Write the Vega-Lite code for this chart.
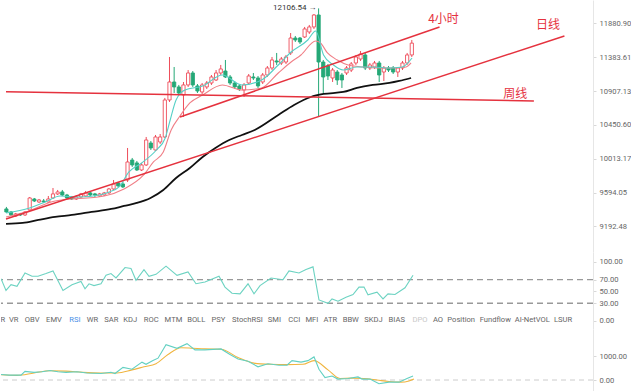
{
  "$schema": "https://vega.github.io/schema/vega-lite/v6.json",
  "padding": 0,
  "background": "white",
  "spacing": 0,
  "config": {
    "view": {"stroke": null},
    "axis": {"labelFont": "Roboto", "labelFontSize": 7.6, "labelColor": "#666", "tickColor": "#d8d8d8", "domainColor": "#e6e6e6", "tickSize": 3, "labelPadding": 3, "grid": false}
  },
  "datasets": {
    "candles": [
      {"i":0,"o":9398,"h":9422,"l":9351,"c":9362},{"i":1,"o":9362,"h":9374,"l":9315,"c":9327},{"i":2,"o":9315,"h":9351,"l":9303,"c":9339},{"i":3,"o":9339,"h":9351,"l":9315,"c":9327},{"i":4,"o":9327,"h":9374,"l":9315,"c":9362},{"i":5,"o":9386,"h":9541,"l":9374,"c":9529},{"i":6,"o":9517,"h":9529,"l":9481,"c":9493},{"i":7,"o":9481,"h":9517,"l":9469,"c":9505},{"i":8,"o":9493,"h":9517,"l":9469,"c":9481},{"i":9,"o":9481,"h":9553,"l":9469,"c":9517},
      {"i":10,"o":9529,"h":9650,"l":9517,"c":9578},{"i":11,"o":9578,"h":9626,"l":9565,"c":9602},{"i":12,"o":9602,"h":9626,"l":9553,"c":9565},{"i":13,"o":9565,"h":9578,"l":9517,"c":9529},{"i":14,"o":9541,"h":9553,"l":9505,"c":9517},{"i":15,"o":9517,"h":9565,"l":9505,"c":9541},{"i":16,"o":9541,"h":9590,"l":9529,"c":9578},{"i":17,"o":9553,"h":9614,"l":9541,"c":9590},{"i":18,"o":9590,"h":9602,"l":9553,"c":9565},{"i":19,"o":9578,"h":9590,"l":9541,"c":9565},
      {"i":20,"o":9553,"h":9590,"l":9541,"c":9578},{"i":21,"o":9565,"h":9602,"l":9553,"c":9590},{"i":22,"o":9590,"h":9650,"l":9578,"c":9638},{"i":23,"o":9638,"h":9748,"l":9626,"c":9699},{"i":24,"o":9711,"h":9724,"l":9663,"c":9675},{"i":25,"o":9699,"h":9724,"l":9650,"c":9663},{"i":26,"o":9748,"h":10150,"l":9724,"c":9972},{"i":27,"o":9997,"h":10023,"l":9910,"c":9935},{"i":28,"o":9960,"h":9985,"l":9860,"c":9872},{"i":29,"o":9872,"h":9960,"l":9860,"c":9935},
      {"i":30,"o":9935,"h":10292,"l":9922,"c":10253},{"i":31,"o":10214,"h":10240,"l":10124,"c":10150},{"i":32,"o":10124,"h":10318,"l":10112,"c":10292},{"i":33,"o":10227,"h":10331,"l":10202,"c":10292},{"i":34,"o":10292,"h":10812,"l":10279,"c":10784},{"i":35,"o":10784,"h":11386,"l":10757,"c":11032},{"i":36,"o":11032,"h":11243,"l":10880,"c":10963},{"i":37,"o":10963,"h":10991,"l":10853,"c":10880},{"i":38,"o":10853,"h":11032,"l":10555,"c":10991},{"i":39,"o":10991,"h":11200,"l":10963,"c":11158},
      {"i":40,"o":11158,"h":11186,"l":10963,"c":10991},{"i":41,"o":10977,"h":11004,"l":10880,"c":10907},{"i":42,"o":10894,"h":11018,"l":10866,"c":10991},{"i":43,"o":10963,"h":11046,"l":10935,"c":11018},{"i":44,"o":11018,"h":11130,"l":10991,"c":11102},{"i":45,"o":11060,"h":11200,"l":11046,"c":11158},{"i":46,"o":11158,"h":11272,"l":11130,"c":11215},{"i":47,"o":11186,"h":11343,"l":11088,"c":11102},{"i":48,"o":11102,"h":11130,"l":10991,"c":11018},{"i":49,"o":11018,"h":11046,"l":10935,"c":10963},
      {"i":50,"o":10977,"h":11004,"l":10907,"c":10935},{"i":51,"o":10921,"h":11018,"l":10825,"c":10991},{"i":52,"o":11018,"h":11144,"l":10991,"c":11116},{"i":53,"o":11102,"h":11158,"l":11060,"c":11088},{"i":54,"o":11088,"h":11116,"l":10949,"c":10977},{"i":55,"o":11032,"h":11158,"l":11004,"c":11130},{"i":56,"o":11130,"h":11257,"l":11102,"c":11229},{"i":57,"o":11229,"h":11386,"l":11200,"c":11343},{"i":58,"o":11329,"h":11444,"l":11272,"c":11314},{"i":59,"o":11300,"h":11386,"l":11272,"c":11357},
      {"i":60,"o":11314,"h":11415,"l":11286,"c":11386},{"i":61,"o":11444,"h":11736,"l":11415,"c":11662},{"i":62,"o":11662,"h":11692,"l":11604,"c":11633},{"i":63,"o":11662,"h":11677,"l":11574,"c":11604},{"i":64,"o":11677,"h":11826,"l":11662,"c":11796},{"i":65,"o":11751,"h":11856,"l":11722,"c":11826},{"i":66,"o":11826,"h":12021,"l":11796,"c":12006},{"i":67,"o":12006,"h":12106.54,"l":10555,"c":11314},{"i":68,"o":11314,"h":11343,"l":10880,"c":11102},{"i":69,"o":11257,"h":11286,"l":11060,"c":11116},
      {"i":70,"o":11088,"h":11229,"l":11032,"c":11200},{"i":71,"o":11172,"h":11200,"l":10991,"c":11060},{"i":72,"o":11130,"h":11158,"l":10949,"c":11060},{"i":73,"o":11158,"h":11257,"l":11130,"c":11229},{"i":74,"o":11200,"h":11314,"l":11172,"c":11286},{"i":75,"o":11300,"h":11415,"l":11272,"c":11386},{"i":76,"o":11357,"h":11472,"l":11329,"c":11429},{"i":77,"o":11415,"h":11444,"l":11200,"c":11229},{"i":78,"o":11229,"h":11300,"l":11200,"c":11272},{"i":79,"o":11243,"h":11329,"l":11215,"c":11300},
      {"i":80,"o":11300,"h":11329,"l":11032,"c":11130},{"i":81,"o":11172,"h":11257,"l":11046,"c":11229},{"i":82,"o":11229,"h":11257,"l":11172,"c":11200},{"i":83,"o":11229,"h":11257,"l":11144,"c":11172},{"i":84,"o":11172,"h":11243,"l":11102,"c":11229},{"i":85,"o":11229,"h":11329,"l":11200,"c":11300},{"i":86,"o":11300,"h":11444,"l":11272,"c":11415},{"i":87,"o":11415,"h":11633,"l":11386,"c":11586.78}
    ],
    "ma_black": [
      {"i":-0.08,"p":9221.5},{"i":3.5,"p":9233.1},{"i":6.88,"p":9268},{"i":10.46,"p":9303.3},{"i":14.05,"p":9326.9},{"i":18.27,"p":9362.2},{"i":22.49,"p":9397.7},{"i":25.23,"p":9433.5},{"i":27.97,"p":9469.2},{"i":30.93,"p":9529.2},{"i":33.67,"p":9625.8},{"i":36.41,"p":9772.9},{"i":39.37,"p":9897},{"i":42.11,"p":10035.5},{"i":44.85,"p":10150.1},{"i":47.81,"p":10253},{"i":50.55,"p":10318.2},{"i":53.29,"p":10383.3},{"i":58.35,"p":10582},{"i":61.73,"p":10716.5},{"i":65.32,"p":10825.2},{"i":68.06,"p":10866.3},{"i":72.28,"p":10893.7},{"i":75.23,"p":10948.9},{"i":78.61,"p":10990.5},{"i":82.19,"p":11018.3},{"i":84.3,"p":11046},{"i":86.84,"p":11088}
    ],
    "ma_cyan": [
      {"i":-0.08,"p":9350.5},{"i":4.98,"p":9409.6},{"i":8.35,"p":9481.2},{"i":11.52,"p":9553.3},{"i":15.74,"p":9541.2},{"i":19.96,"p":9565.4},{"i":22.07,"p":9601.6},{"i":24.18,"p":9662.5},{"i":26.29,"p":9847.1},{"i":29.03,"p":9959.8},{"i":32.19,"p":10124.4},{"i":34.09,"p":10279.1},{"i":35.15,"p":10515.2},{"i":36.41,"p":10784.1},{"i":38.31,"p":10921.1},{"i":42.11,"p":10976.6},{"i":46.33,"p":11130.2},{"i":50.55,"p":10990.5},{"i":54.77,"p":11059.9},{"i":58.35,"p":11271.5},{"i":61.1,"p":11458},{"i":64.68,"p":11632.8},{"i":66.37,"p":11765.8},{"i":68.06,"p":11414.8},{"i":70.17,"p":11271.5},{"i":72.28,"p":11200.4},{"i":75.23,"p":11243.1},{"i":78.61,"p":11243.1},{"i":82.19,"p":11228.8},{"i":84.94,"p":11243.1},{"i":87.05,"p":11371.6}
    ],
    "ma_pink": [
      {"i":-0.08,"p":9303.3},{"i":4.14,"p":9362.2},{"i":10.46,"p":9493.1},{"i":21.01,"p":9553.3},{"i":25.23,"p":9638},{"i":29.45,"p":9810},{"i":31.56,"p":9972.3},{"i":33.67,"p":10099},{"i":35.36,"p":10383.3},{"i":37.26,"p":10568.6},{"i":39.37,"p":10743.5},{"i":42.11,"p":10852.6},{"i":46.33,"p":10990.5},{"i":50.55,"p":10921.1},{"i":54.77,"p":10948.9},{"i":58.35,"p":11158.3},{"i":61.1,"p":11314.2},{"i":63.21,"p":11414.8},{"i":66.37,"p":11618.2},{"i":67.41,"p":11589},{"i":68.9,"p":11443.6},{"i":71.01,"p":11342.7},{"i":73.33,"p":11271.5},{"i":76.5,"p":11243.1},{"i":80.08,"p":11228.8},{"i":82.83,"p":11228.8},{"i":85.78,"p":11243.1},{"i":86.84,"p":11300}
    ],
    "trend": [
      {"name":"h4","i":37.26,"p":10555.3},{"name":"h4","i":92.95,"p":11825.5},
      {"name":"day","i":-0.0844,"p":9279.8},{"name":"day","i":119.75,"p":11691.9},
      {"name":"week","i":-0.0844,"p":10897.9},{"name":"week","i":113.2,"p":10770.7}
    ],
    "trendLabels": [
      {"t":"4小时","i":93.8,"p":11945.6},{"t":"日线","i":116.2,"p":11855.5},{"t":"周线","i":109.2,"p":10862}
    ],
    "peak": [{"i":67,"p":12106.54,"t":"12106.54 →"}],
    "last": [{"p":11586.78,"t":"11586.78"}],
    "levels": [{"v":70},{"v":30}],
    "zero": [{"v":0}],
    "rsi": [
      {"i":-0.08,"v":71.7},{"i":0.97,"v":51.7},{"i":2.03,"v":61.4},{"i":3.29,"v":58.6},{"i":4.98,"v":81.4},{"i":6.46,"v":75.7},{"i":7.72,"v":75.7},{"i":9.41,"v":80.3},{"i":10.89,"v":84.9},{"i":12.99,"v":51.7},{"i":14.89,"v":61.4},{"i":16.79,"v":67},{"i":17.64,"v":54.6},{"i":18.48,"v":63},{"i":19.54,"v":60},{"i":21.01,"v":63},{"i":22.07,"v":77.4},{"i":23.12,"v":80.3},{"i":24.18,"v":72.9},{"i":26.08,"v":90.6},{"i":27.34,"v":88.9},{"i":28.4,"v":68.9},{"i":30.08,"v":87.1},{"i":31.14,"v":75.7},{"i":32.62,"v":79.1},{"i":34.73,"v":92.9},{"i":37.05,"v":77.4},{"i":39.37,"v":83.1},{"i":41.05,"v":63.1},{"i":42.95,"v":66},{"i":45.91,"v":75.7},{"i":47.17,"v":57.4},{"i":48.65,"v":47.1},{"i":50.34,"v":46},{"i":52.03,"v":63},{"i":53.29,"v":46},{"i":54.56,"v":60},{"i":56.88,"v":72.9},{"i":59.41,"v":70},{"i":60.68,"v":84.9},{"i":62.78,"v":81.4},{"i":64.26,"v":87.1},{"i":65.74,"v":91.7},{"i":67,"v":35.7},{"i":68.9,"v":30},{"i":69.75,"v":37.4},{"i":71.01,"v":33.4},{"i":72.7,"v":40.3},{"i":74.18,"v":44.9},{"i":75.44,"v":57.4},{"i":76.5,"v":57.4},{"i":77.34,"v":44.3},{"i":79.24,"v":48.9},{"i":80.51,"v":37.4},{"i":81.56,"v":46},{"i":83.04,"v":44.9},{"i":85.15,"v":56.3},{"i":86.84,"v":77.4}
    ],
    "names": [
      {"n":"R","i":0.3},{"n":"VR","i":2.6},{"n":"OBV","i":6.5},{"n":"EMV","i":11.1},{"n":"RSI","i":15.5},{"n":"WR","i":19.2},{"n":"SAR","i":23.2},{"n":"KDJ","i":27.2},{"n":"ROC","i":31.6},{"n":"MTM","i":36.3},{"n":"BOLL","i":41.1},{"n":"PSY","i":45.8},{"n":"StochRSI","i":51.9},{"n":"SMI","i":57.6},{"n":"CCI","i":61.8},{"n":"MFI","i":65.5},{"n":"ATR","i":69.4},{"n":"BBW","i":73.7},{"n":"SKDJ","i":78.5},{"n":"BIAS","i":83.4},{"n":"DPO","i":88.3},{"n":"AO","i":92.1},{"n":"Position","i":97},{"n":"Fundflow","i":104.2},{"n":"AI-NetVOL","i":112},{"n":"LSUR","i":118.5}
    ],
    "ind_cyan": [
      {"i":-0.08,"v":231},{"i":1.6,"v":205},{"i":4.14,"v":205},{"i":4.98,"v":359},{"i":6.88,"v":320},{"i":8.57,"v":346},{"i":10.25,"v":397},{"i":11.94,"v":346},{"i":13.63,"v":320},{"i":15.95,"v":346},{"i":18.06,"v":295},{"i":21.01,"v":269},{"i":23.12,"v":320},{"i":23.97,"v":269},{"i":25.65,"v":526},{"i":27.55,"v":449},{"i":29.66,"v":744},{"i":30.51,"v":654},{"i":31.98,"v":808},{"i":33.04,"v":910},{"i":34.73,"v":1474},{"i":37.05,"v":1321},{"i":39.16,"v":1513},{"i":40.84,"v":1256},{"i":42.95,"v":1256},{"i":46.33,"v":1295},{"i":48.23,"v":1064},{"i":49.92,"v":872},{"i":52.03,"v":782},{"i":54.13,"v":551},{"i":56.24,"v":679},{"i":58.56,"v":615},{"i":60.25,"v":615},{"i":61.31,"v":808},{"i":63.21,"v":744},{"i":64.68,"v":808},{"i":65.95,"v":962},{"i":67,"v":449},{"i":68.27,"v":103},{"i":69.75,"v":167},{"i":71.01,"v":38},{"i":73.12,"v":64},{"i":75.23,"v":128},{"i":76.08,"v":38},{"i":77.76,"v":38},{"i":79.66,"v":-154},{"i":81.77,"v":-90},{"i":83.88,"v":-90},{"i":85.57,"v":64},{"i":86.84,"v":167}
    ],
    "ind_yellow": [
      {"i":-0.08,"v":218},{"i":3.29,"v":192},{"i":6.88,"v":295},{"i":10.25,"v":385},{"i":13.63,"v":372},{"i":17.22,"v":320},{"i":21.01,"v":295},{"i":24.39,"v":295},{"i":27.55,"v":423},{"i":30.08,"v":551},{"i":32.62,"v":679},{"i":35.15,"v":1064},{"i":37.89,"v":1346},{"i":40.42,"v":1321},{"i":42.95,"v":1295},{"i":46.33,"v":1282},{"i":49.92,"v":936},{"i":53.29,"v":705},{"i":56.67,"v":654},{"i":60.25,"v":641},{"i":63.63,"v":654},{"i":65.95,"v":808},{"i":68.9,"v":423},{"i":71.43,"v":64},{"i":73.97,"v":77},{"i":76.5,"v":64},{"i":79.24,"v":0},{"i":81.77,"v":-64},{"i":84.3,"v":-90},{"i":86,"v":-38},{"i":87.05,"v":38}
    ]
  },
  "vconcat": [
    {
      "width": 592,
      "height": 252,
      "encoding": {
        "x": {"field": "i", "type": "quantitative", "scale": {"domain": [-0.0844, 124.81], "nice": false, "zero": false}, "axis": null},
        "y": {"type": "quantitative", "scale": {"type": "log", "domain": [8900.7, 12235.4], "nice": false, "zero": false},
              "axis": {"orient": "right", "title": null, "values": [9192.48, 9594.05, 10013.17, 10450.6, 10907.13, 11383.61, 11880.9], "format": ".2f"}}
      },
      "layer": [
        {"data": {"name": "candles"}, "mark": {"type": "rule", "strokeWidth": 1, "clip": true},
         "encoding": {"y": {"field": "l", "type": "quantitative"}, "y2": {"field": "h"},
                      "color": {"condition": {"test": "datum.c >= datum.o", "value": "#ee4d5a"}, "value": "#25a877"}}},
        {"data": {"name": "candles"}, "mark": {"type": "bar", "size": 3.2, "strokeWidth": 0.9, "clip": true},
         "encoding": {"y": {"field": "o", "type": "quantitative"}, "y2": {"field": "c"},
                      "fill": {"condition": {"test": "datum.c >= datum.o", "value": "#ffffff"}, "value": "#25a877"},
                      "stroke": {"condition": {"test": "datum.c >= datum.o", "value": "#ee4d5a"}, "value": "#25a877"}}},
        {"data": {"name": "ma_pink"}, "mark": {"type": "line", "color": "#f07f87", "strokeWidth": 1.1, "interpolate": "monotone", "clip": true},
         "encoding": {"y": {"field": "p", "type": "quantitative"}}},
        {"data": {"name": "ma_cyan"}, "mark": {"type": "line", "color": "#56d0c6", "strokeWidth": 1.1, "interpolate": "monotone", "clip": true},
         "encoding": {"y": {"field": "p", "type": "quantitative"}}},
        {"data": {"name": "ma_black"}, "mark": {"type": "line", "color": "#111111", "strokeWidth": 1.8, "interpolate": "monotone", "clip": true},
         "encoding": {"y": {"field": "p", "type": "quantitative"}}},
        {"data": {"name": "trend"}, "mark": {"type": "line", "color": "#e5323e", "strokeWidth": 1.5, "clip": true},
         "encoding": {"y": {"field": "p", "type": "quantitative"}, "detail": {"field": "name"}}},
        {"data": {"name": "trendLabels"}, "mark": {"type": "text", "color": "#e5323e", "font": "Noto Sans CJK SC", "fontSize": 12, "align": "center", "baseline": "middle"},
         "encoding": {"y": {"field": "p", "type": "quantitative"}, "text": {"field": "t"}}},
        {"data": {"name": "peak"}, "mark": {"type": "text", "color": "#333333", "font": "Roboto", "fontSize": 8, "align": "right", "baseline": "middle", "dx": -2},
         "encoding": {"y": {"field": "p", "type": "quantitative"}, "text": {"field": "t"}}},
        {"data": {"name": "last"}, "mark": {"type": "point", "shape": "M-1,-0.28H1V0.28H-1Z", "size": 2116, "filled": true, "color": "#e96a6e", "opacity": 1},
         "encoding": {"x": {"datum": 129.66}, "y": {"field": "p", "type": "quantitative"}}},
        {"data": {"name": "last"}, "mark": {"type": "text", "color": "#ffffff", "font": "Roboto", "fontSize": 8, "align": "center", "baseline": "middle"},
         "encoding": {"x": {"datum": 129.66}, "y": {"field": "p", "type": "quantitative"}, "text": {"field": "t"}}}
      ]
    },
    {
      "width": 592,
      "height": 77,
      "encoding": {
        "x": {"field": "i", "type": "quantitative", "scale": {"domain": [-0.0844, 124.81], "nice": false, "zero": false}, "axis": null},
        "y": {"type": "quantitative", "scale": {"domain": [-13.6, 116.9], "nice": false, "zero": false},
              "axis": {"orient": "right", "title": null, "values": [0, 30, 50, 70, 100], "format": ".2f"}}
      },
      "layer": [
        {"data": {"name": "levels"}, "mark": {"type": "rule", "color": "#999999", "strokeWidth": 1.4, "strokeDash": [6, 4]},
         "encoding": {"x": null, "y": {"field": "v", "type": "quantitative"}}},
        {"data": {"name": "rsi"}, "mark": {"type": "line", "color": "#6dd3c2", "strokeWidth": 1.1, "clip": true},
         "encoding": {"y": {"field": "v", "type": "quantitative"}}},
        {"data": {"name": "names"}, "mark": {"type": "text", "font": "Roboto", "fontSize": 7.6, "align": "center", "baseline": "middle", "clip": true},
         "encoding": {"y": {"datum": 1}, "text": {"field": "n"},
                      "color": {"condition": [{"test": "datum.n === 'RSI'", "value": "#4a8fe7"}, {"test": "datum.n === 'DPO'", "value": "#c8c8c8"}], "value": "#666666"}}}
      ]
    },
    {
      "width": 592,
      "height": 62,
      "encoding": {
        "x": {"field": "i", "type": "quantitative", "scale": {"domain": [-0.0844, 124.81], "nice": false, "zero": false}, "axis": null},
        "y": {"type": "quantitative", "scale": {"domain": [-458, 2125], "nice": false, "zero": false},
              "axis": {"orient": "right", "title": null, "values": [0, 1000], "format": ".2f"}}
      },
      "layer": [
        {"data": {"name": "zero"}, "mark": {"type": "rule", "color": "#cccccc", "strokeWidth": 1, "strokeDash": [5, 4]},
         "encoding": {"x": null, "y": {"field": "v", "type": "quantitative"}}},
        {"data": {"name": "ind_yellow"}, "mark": {"type": "line", "color": "#f0b540", "strokeWidth": 1.1, "interpolate": "monotone", "clip": true},
         "encoding": {"y": {"field": "v", "type": "quantitative"}}},
        {"data": {"name": "ind_cyan"}, "mark": {"type": "line", "color": "#62d0c2", "strokeWidth": 1.1, "clip": true},
         "encoding": {"y": {"field": "v", "type": "quantitative"}}}
      ]
    }
  ]
}
